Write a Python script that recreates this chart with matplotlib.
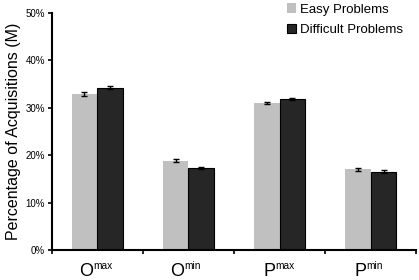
import matplotlib
matplotlib.use("Agg")
import matplotlib.pyplot as plt
import numpy as np
from matplotlib.ticker import PercentFormatter

plt.rcParams['font.family'] = ['Liberation Sans', 'DejaVu Sans']

categories_base = ["O", "O", "P", "P"]
categories_sup = ["max", "min", "max", "min"]
easy = [32.9, 18.8, 31.0, 17.0]
difficult = [34.2, 17.3, 31.9, 16.5]
easy_err = [0.35, 0.3, 0.3, 0.3]
difficult_err = [0.3, 0.25, 0.25, 0.3]
series_names = ["Easy Problems", "Difficult Problems"]

fig = plt.figure(figsize=(4.19, 2.8), dpi=100)
ax = fig.add_axes([0.124, 0.107, 0.869, 0.847])

x = np.arange(len(categories_base))
w = 0.285
ax.bar(x - w / 2, easy, w, color="#c0c0c0", label=series_names[0],
       yerr=easy_err, error_kw=dict(ecolor="black", capsize=2.5, elinewidth=1, capthick=1))
ax.bar(x + w / 2, difficult, w, color="#262626", edgecolor="black", linewidth=0.8,
       label=series_names[1],
       yerr=difficult_err, error_kw=dict(ecolor="black", capsize=2.5, elinewidth=1, capthick=1))

ax.set_xlim(-0.5, len(categories_base) - 0.5)
ax.set_ylim(0, 50)
ax.set_yticks(np.arange(0, 51, 10))
ax.yaxis.set_major_formatter(PercentFormatter(decimals=0))
ax.tick_params(axis='y', labelsize=7, length=3, width=1.2, direction='out', pad=2, colors='black')
ax.set_xticks(np.arange(-0.5, len(categories_base), 1.0))
ax.set_xticklabels([])
ax.tick_params(axis='x', length=3, width=1.2, direction='out')

for s in ['top', 'right']:
    ax.spines[s].set_visible(False)
for s in ['left', 'bottom']:
    ax.spines[s].set_linewidth(1.5)

ax.set_ylabel("Percentage of Acquisitions (M)", fontsize=11.5, labelpad=3)

for xi, b, sup in zip(x, categories_base, categories_sup):
    ax.annotate(b, xy=(xi, 0), xycoords=('data', 'axes fraction'),
                xytext=(-3, -19), textcoords='offset points',
                ha='right', va='baseline', fontsize=13)
    ax.annotate(sup, xy=(xi, 0), xycoords=('data', 'axes fraction'),
                xytext=(-3, -13.5), textcoords='offset points',
                ha='left', va='baseline', fontsize=7.3)

leg = ax.legend(loc='upper right', bbox_to_anchor=(0.978, 1.062), frameon=False,
                fontsize=9.5, handlelength=0.7, handleheight=0.7,
                handletextpad=0.3, labelspacing=0.6, borderaxespad=0)

fig.savefig("out.png", dpi=100)
